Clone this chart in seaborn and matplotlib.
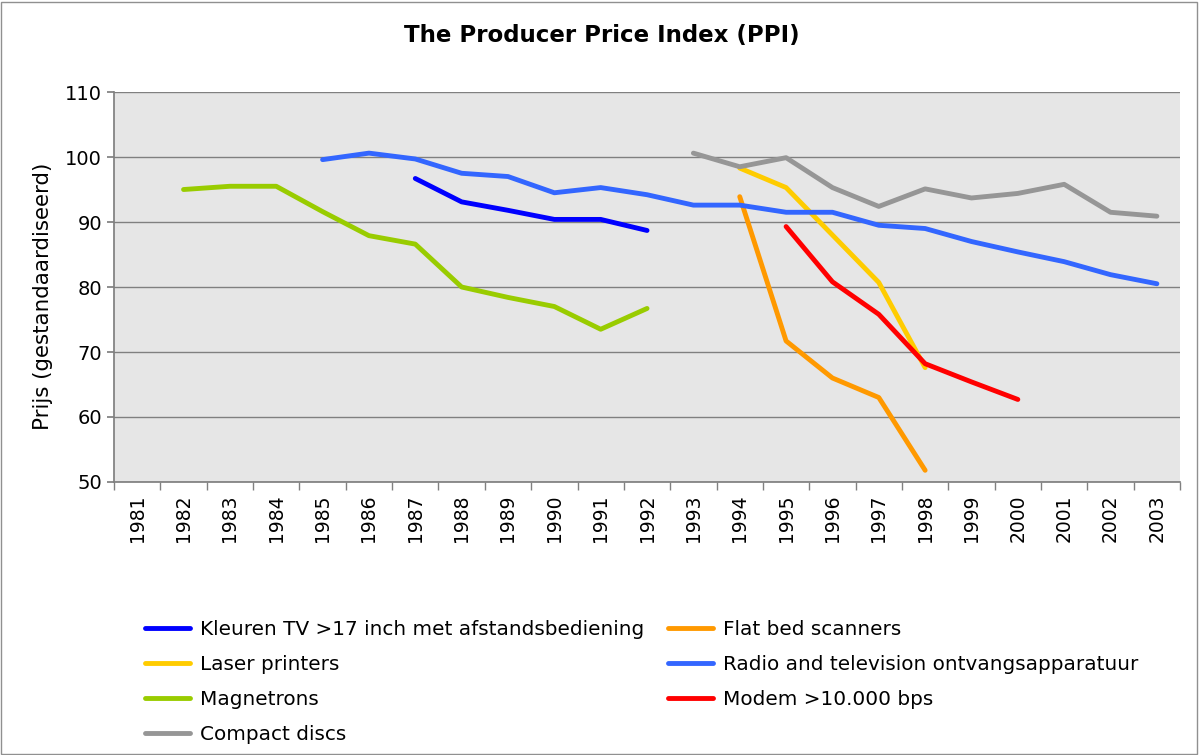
import pandas as pd
import matplotlib.pyplot as plt
import seaborn as sns
from matplotlib.patches import Rectangle

years = list(range(1981, 2004))

kleuren_tv_years = [1987, 1988, 1989, 1990, 1991, 1992]
kleuren_tv = [96.7, 93.1, 91.8, 90.4, 90.4, 88.7]

scanner_years = [1994, 1995, 1996, 1997, 1998]
scanners = [93.9, 71.7, 66.0, 63.0, 51.8]

laser_years = [1994, 1995, 1996, 1997, 1998]
laser = [98.3, 95.3, 88.0, 80.7, 67.6]

radio_years = list(range(1985, 2004))
radio = [99.6, 100.6, 99.7, 97.5, 97.0, 94.5, 95.3, 94.2, 92.6, 92.6,
         91.5, 91.5, 89.5, 89.0, 87.0, 85.4, 83.9, 81.9, 80.5]

magnetron_years = list(range(1982, 1993))
magnetrons = [95.0, 95.5, 95.5, 91.6, 87.9, 86.6, 80.0, 78.4, 77.0, 73.5, 76.7]

modem_years = [1995, 1996, 1997, 1998, 1999, 2000]
modem = [89.3, 80.8, 75.8, 68.2, 65.4, 62.7]

cd_years = list(range(1993, 2004))
cds = [100.6, 98.5, 99.9, 95.3, 92.4, 95.1, 93.7, 94.4, 95.8, 91.5, 90.9]

series = [
    ("Kleuren TV >17 inch met afstandsbediening", kleuren_tv_years, kleuren_tv, "#0000FF"),
    ("Flat bed scanners", scanner_years, scanners, "#FF9900"),
    ("Laser printers", laser_years, laser, "#FFCC00"),
    ("Radio and television ontvangsapparatuur", radio_years, radio, "#3366FF"),
    ("Magnetrons", magnetron_years, magnetrons, "#99CC00"),
    ("Modem >10.000 bps", modem_years, modem, "#FF0000"),
    ("Compact discs", cd_years, cds, "#969696"),
]

rows = []
for name, xs, ys, _ in series:
    for x, y in zip(xs, ys):
        rows.append({"Jaar": x, "Prijs": y, "Product": name})
df = pd.DataFrame(rows)

sns.set_theme(style="white")
plt.rcParams['font.family'] = ['DejaVu Sans']
plt.rcParams['text.color'] = 'black'
plt.rcParams['axes.labelcolor'] = 'black'
plt.rcParams['xtick.labelcolor'] = 'black'
plt.rcParams['ytick.labelcolor'] = 'black'

fig = plt.figure(figsize=(11.99, 7.55), dpi=100)
ax = fig.add_axes([0.0951, 0.3616, 0.8891, 0.5165])
ax.set_facecolor("#E6E6E6")

names = [s[0] for s in series]
palette = {s[0]: s[3] for s in series}
sns.lineplot(data=df, x="Jaar", y="Prijs", hue="Product", hue_order=names,
             palette=palette, linewidth=3.5, ax=ax, legend=False)

ax.set_xlim(1980.5, 2003.5)
ax.set_ylim(50, 110)
ax.set_yticks(range(50, 111, 10))
ax.yaxis.grid(True, color="#808080", linewidth=1)
ax.set_axisbelow(True)
ax.set_xticks(years)
ax.set_xticklabels([str(y) for y in years], rotation=90, fontsize=13.5)
ax.set_xticks([y + 0.5 for y in [1980] + years], minor=True)
ax.tick_params(axis="x", which="major", length=0, pad=9)
ax.tick_params(axis="x", which="minor", length=6, color="#808080", bottom=True)
ax.tick_params(axis="y", length=5, color="#808080", left=True, labelsize=14)
for side in ["top", "right"]:
    ax.spines[side].set_visible(False)
for side in ["left", "bottom"]:
    ax.spines[side].set_color("#808080")
ax.set_xlabel("")
ax.set_ylabel("Prijs (gestandaardiseerd)", fontsize=15.4)
ax.yaxis.set_label_coords(-0.057, 0.477)

fig.suptitle("The Producer Price Index (PPI)", fontsize=16.5, fontweight="bold",
             x=0.502, y=0.968)

handles = [plt.Line2D([], [], color=s[3], linewidth=3.5) for s in series]
order = [0, 2, 4, 6, 1, 3, 5]
fig.legend([handles[i] for i in order], [names[i] for i in order],
           loc="upper left", bbox_to_anchor=(0.114, 0.189), ncol=2,
           frameon=False, fontsize=14.4, handlelength=2.25, handletextpad=0.5,
           columnspacing=1.2, labelspacing=0.8, borderaxespad=0)

fig.patches.append(Rectangle((0.001, 0.001), 0.997, 0.997, transform=fig.transFigure,
                             fill=False, edgecolor="#909090", linewidth=1))

fig.savefig("out.png", dpi=100)
